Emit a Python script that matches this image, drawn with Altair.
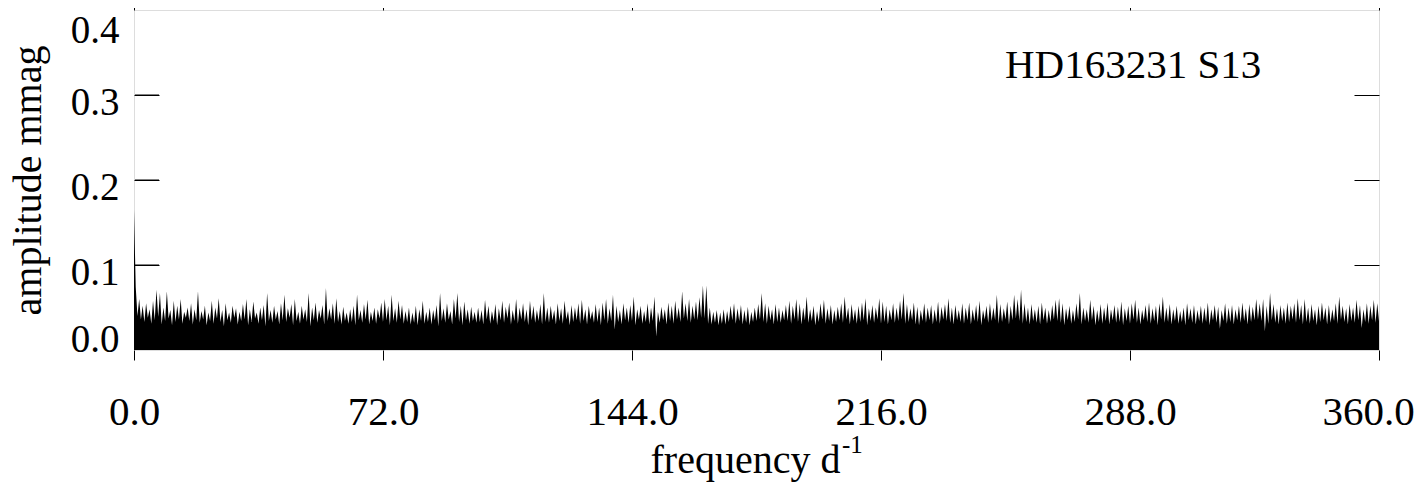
import altair as alt
import pandas as pd

# ---- data ----
freq_ticks = [0, 72, 144, 216, 288, 360]
amp_ticks = [0.0, 0.1, 0.2, 0.3, 0.4]
inner_amp_ticks = [0.1, 0.2, 0.3]
star_label = ["HD163231 S13"]

# spectrum samples in units of 0.001 mmag
# value at integer frequency i (gap bottoms / first point = low-frequency spike)
amp_at_int = [
    165, 40, 36, 33, 38, 31, 35, 39, 30, 34, 37, 29, 33, 36, 31, 38, 34, 30, 35, 32,
    36, 29, 34, 31, 37, 33, 28, 35, 32, 38, 30, 34, 36, 29, 33, 37, 31, 35, 28, 34,
    32, 36, 30, 35, 33, 38, 29, 34, 31, 36, 33, 28, 35, 32, 37, 30, 34, 36, 31, 33,
    30, 34, 31, 33, 29, 35, 32, 36, 30, 34, 31, 37, 33, 35, 29, 34, 32, 36, 31, 33,
    30, 32, 29, 34, 31, 33, 30, 35, 28, 34, 32, 36, 30, 37, 33, 29, 35, 31, 34, 32,
    33, 30, 36, 31, 34, 29, 35, 32, 37, 30, 34, 31, 36, 33, 29, 35, 32, 34, 30, 33,
    32, 35, 30, 34, 31, 36, 29, 33, 35, 31, 34, 30, 36, 32, 33, 29, 35, 31, 34, 24,
    33, 30, 35, 32, 34, 29, 36, 31, 33, 30, 34, 16, 32, 35, 30, 34, 31, 36, 33, 37,
    34, 32, 36, 35, 38, 37, 31, 30, 32, 29, 31, 30, 33, 35, 31, 34, 30, 32, 29, 33,
    34, 36, 33, 31, 35, 30, 33, 32, 35, 34, 31, 36, 33, 30, 35, 32, 34, 29, 33, 36,
    31, 34, 30, 33, 35, 32, 36, 30, 34, 31, 33, 35, 29, 34, 32, 36, 31, 33, 30, 35,
    32, 34, 36, 31, 33, 35, 30, 29, 34, 32, 35, 30, 33, 31, 36, 34, 32, 30, 35, 33,
    31, 35, 30, 34, 33, 29, 36, 32, 34, 35, 31, 33, 36, 30, 35, 37, 34, 31, 33, 30,
    34, 32, 30, 35, 31, 33, 36, 34, 32, 29, 35, 31, 33, 36, 30, 34, 32, 35, 29, 33,
    31, 34, 30, 35, 32, 33, 29, 34, 31, 36, 32, 30, 35, 33, 31, 34, 29, 36, 32, 33,
    30, 34, 31, 33, 29, 35, 32, 30, 34, 31, 33, 29, 35, 32, 25, 34, 31, 33, 30, 35,
    32, 34, 30, 33, 35, 36, 34, 22, 31, 35, 32, 30, 34, 31, 33, 36, 32, 35, 30, 33,
    31, 34, 29, 33, 35, 30, 32, 34, 31, 36, 33, 30, 34, 32, 35, 26, 33, 31, 35, 32,
    34,
]
# value at frequency i + 0.5 (spike tops)
amp_at_half = [
    74, 60, 52, 55, 48, 58, 71, 67, 50, 69, 47, 58, 52, 60, 45, 50, 55, 48, 69, 46,
    52, 44, 58, 50, 61, 47, 55, 44, 52, 49, 45, 54, 60, 48, 57, 44, 50, 53, 67, 47,
    52, 46, 55, 65, 49, 54, 60, 45, 52, 48, 67, 50, 56, 47, 53, 73, 49, 55, 61, 46,
    51, 44, 48, 52, 65, 47, 54, 59, 45, 50, 48, 56, 60, 52, 65, 49, 58, 53, 46, 50,
    44, 52, 48, 58, 45, 50, 47, 53, 67, 49, 55, 46, 60, 67, 52, 57, 48, 51, 45, 50,
    47, 59, 52, 46, 54, 49, 58, 51, 56, 47, 60, 50, 55, 48, 58, 52, 47, 54, 67, 50,
    52, 47, 55, 49, 58, 46, 53, 50, 55, 59, 48, 52, 46, 54, 50, 56, 60, 49, 65, 52,
    47, 55, 50, 53, 63, 48, 52, 46, 55, 50, 63, 45, 51, 48, 56, 52, 58, 50, 69, 55,
    60, 52, 57, 62, 76, 76, 50, 45, 47, 44, 48, 46, 52, 55, 49, 53, 47, 51, 45, 50,
    54, 67, 55, 52, 48, 54, 50, 47, 53, 58, 52, 60, 55, 50, 63, 48, 52, 46, 55, 59,
    49, 53, 47, 51, 55, 63, 50, 54, 48, 52, 56, 61, 49, 53, 50, 61, 57, 52, 48, 55,
    50, 58, 67, 54, 49, 56, 51, 47, 55, 50, 53, 48, 57, 51, 54, 61, 50, 53, 47, 55,
    50, 56, 48, 53, 58, 47, 52, 55, 50, 65, 54, 49, 57, 52, 65, 60, 71, 55, 50, 54,
    48, 52, 56, 50, 47, 53, 59, 61, 55, 49, 52, 47, 55, 67, 50, 48, 59, 52, 47, 54,
    50, 56, 48, 53, 51, 57, 49, 52, 55, 59, 50, 47, 53, 56, 49, 52, 55, 63, 50, 54,
    48, 52, 46, 50, 55, 49, 53, 47, 52, 50, 56, 48, 53, 51, 47, 55, 50, 53, 48, 52,
    56, 49, 54, 51, 60, 55, 60, 52, 67, 54, 49, 53, 50, 56, 52, 55, 61, 53, 60, 50,
    54, 48, 52, 56, 50, 53, 48, 55, 63, 52, 49, 54, 50, 59, 53, 48, 55, 52, 59, 55,
]

rows = []
for i in range(len(amp_at_half)):
    rows.append({"f": float(i), "a": amp_at_int[i] / 1000.0})
    rows.append({"f": i + 0.5, "a": amp_at_half[i] / 1000.0})
rows.append({"f": 360.0, "a": amp_at_int[360] / 1000.0})
spec_df = pd.DataFrame(rows)

FONT = "Liberation Serif"
W, H = 1245, 340
TICK_LEN_PX = 25

x_scale = alt.Scale(domain=[0, 360], nice=False, zero=False)
y_scale = alt.Scale(domain=[0, 0.4], nice=False)

spectrum = alt.Chart(spec_df).mark_area(
    color="black", interpolate="linear", strokeWidth=0
).encode(
    x=alt.X(
        "f:Q", scale=x_scale,
        axis=alt.Axis(
            orient="bottom", values=freq_ticks, format=".1f",
            title="frequency d", titleX=611, titleY=122,
            titleBaseline="alphabetic", titleFontSize=40, titleFont=FONT,
            titleFontWeight="normal", titleColor="black",
            labelFont=FONT, labelFontSize=41, labelColor="black",
            labelPadding=32, tickSize=10, tickColor="black", tickWidth=1,
            domain=False, grid=False, labelFlush=False, labelOverlap=False,
            labelOffset={"condition": {"test": "datum.value == 360", "value": -11}, "value": 0},
        ),
    ),
    y=alt.Y(
        "a:Q", scale=y_scale,
        axis=alt.Axis(
            values=amp_ticks, format=".1f", title="amplitude mmag",
            titleX=-94, titleY=170, titleBaseline="alphabetic", titleAngle=-90,
            titleFontSize=40, titleFont=FONT, titleFontWeight="normal",
            titleColor="black",
            labelFont=FONT, labelFontSize=39, labelColor="black",
            labelBaseline="middle",
            labelPadding=15, ticks=False, tickSize=0, domain=False, grid=False,
            labelFlush=False, labelOverlap=False,
            labelOffset={
                "condition": [
                    {"test": "datum.value == 0", "value": -11},
                    {"test": "datum.value == 0.4", "value": 20},
                ],
                "value": 7,
            },
        ),
    ),
)

tick_df = pd.DataFrame({"v": inner_amp_ticks})


def inner_tick_axis(offset):
    # a right-oriented axis whose ticks point right, shifted by `offset`
    return alt.Chart(tick_df).mark_point(opacity=0).encode(
        y=alt.Y(
            "v:Q", scale=y_scale,
            axis=alt.Axis(
                orient="right", values=inner_amp_ticks, labels=False, title=None,
                offset=offset, tickSize=TICK_LEN_PX, tickColor="black",
                tickWidth=1, domain=False, grid=False, zindex=2,
            ),
        ),
        x=alt.X("v:Q", scale=x_scale, axis=None),
    )


right_ticks = inner_tick_axis(-TICK_LEN_PX)  # ticks from W-25 to W
left_ticks = inner_tick_axis(-W)             # ticks from 0 to 25

# extra left ticks as pixel rules (same place, drawn on top)
left_rules = alt.Chart(tick_df).mark_rule(color="black", strokeWidth=1).encode(
    y=alt.Y("v:Q", scale=y_scale, axis=None),
    x=alt.value(1), x2=alt.value(TICK_LEN_PX),
)

top_df = pd.DataFrame({"v": freq_ticks})
top_axis = alt.Chart(top_df).mark_point(opacity=0).encode(
    x=alt.X(
        "v:Q", scale=x_scale,
        axis=alt.Axis(
            orient="top", values=freq_ticks, labels=False, title=None,
            tickSize=10, tickColor="black", tickWidth=1, domain=False, grid=False,
        ),
    ),
    y=alt.Y("v:Q", scale=y_scale, axis=None),
)

label_df = pd.DataFrame({"t": star_label})
annotation = alt.Chart(label_df).mark_text(
    align="left", baseline="middle", font=FONT, fontSize=41, color="black"
).encode(text="t:N", x=alt.value(871), y=alt.value(56))

sup_df = pd.DataFrame({"t": ["-1"]})
superscript = alt.Chart(sup_df).mark_text(
    align="left", baseline="middle", font=FONT, fontSize=25, color="black"
).encode(text="t:N", x=alt.value(708), y=alt.value(435))

chart = alt.layer(
    spectrum, right_ticks, left_ticks, top_axis, annotation, superscript, left_rules
).resolve_axis(x="independent", y="independent").properties(
    width=W, height=H,
    autosize=alt.AutoSizeParams(type="none"),
    padding={"left": 126, "top": 2, "right": 36, "bottom": 133},
).configure_view(
    stroke="black", strokeWidth=1
).configure(background="white")

chart.save("out.html", embed_options={"renderer": "svg", "actions": False})
